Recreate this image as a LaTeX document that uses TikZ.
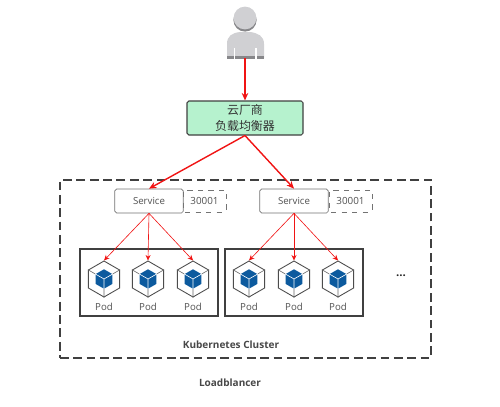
\documentclass[tikz,border=0pt]{standalone}
\usepackage{fontspec}
\setmainfont{Open Sans}
\newfontfamily\cjk{Noto Sans CJK SC}
\usetikzlibrary{calc,arrows.meta,shapes.geometric}
\definecolor{userc}{RGB}{208,208,211}
\definecolor{usershade}{RGB}{135,135,138}
\definecolor{lbc}{RGB}{182,242,206}
\definecolor{cubec}{RGB}{12,90,158}
\definecolor{linec}{RGB}{64,64,64}
\definecolor{txtc}{RGB}{80,80,80}
\definecolor{flowc}{RGB}{240,20,20}
\tikzset{
  lb/.style={rectangle,rounded corners=1pt,draw=linec,fill=lbc,line width=0.6pt,minimum width=23.2mm,minimum height=6.8mm,inner sep=0pt,align=center,font=\cjk\fontsize{6.8}{8.6}\selectfont,text=black!80},
  svc/.style={rectangle,rounded corners=1pt,draw=black!55,fill=white,line width=0.4pt,minimum width=13.7mm,minimum height=4.8mm,inner sep=0pt,font=\fontsize{5.5}{6}\selectfont,text=txtc},
  nport/.style={rectangle,rounded corners=1pt,draw=black!55,dashed,line width=0.4pt,minimum width=8.6mm,minimum height=4.4mm,inner sep=0pt,font=\fontsize{5.6}{6}\selectfont,text=txtc},
  podbox/.style={rectangle,draw=black!75,line width=0.7pt,minimum width=27.6mm,minimum height=13.4mm,inner sep=0pt},
  pod/.style={regular polygon,regular polygon sides=6,shape border rotate=30,draw=black!70,line width=0.5pt,minimum size=7.2mm,inner sep=0pt},
  cube/.style={regular polygon,regular polygon sides=6,shape border rotate=30,fill=cubec,minimum size=3.9mm,inner sep=0pt},
  lbl/.style={font=\fontsize{5.5}{6}\selectfont,text=txtc},
  title/.style={font=\bfseries\fontsize{5.7}{7}\selectfont,text=black!72},
  bigflow/.style={-{Stealth[length=1.5mm,width=1.3mm]},flowc,line width=0.8pt},
  flow/.style={-{Stealth[length=1.1mm,width=1mm]},flowc,line width=0.35pt},
}
\begin{document}
\begin{tikzpicture}[x=0.2mm,y=-0.2mm]
  \useasboundingbox (0,0) rectangle (500,406);
  % user figure
  \fill[usershade] (245,20) circle (11.6);
  \fill[userc] (245,18) circle (11.4);
  \fill[userc] (227,58) -- (227,44) .. controls (227,36) and (232,33) .. (240,32) -- (250,32) .. controls (258,33) and (264,36) .. (264,44) -- (264,58) -- cycle;
  \fill[usershade] (227,56) rectangle (264,58.5);
  \draw[white,line width=0.6pt] (234.5,48) -- (234.5,58.5) (256,48) -- (256,58.5);
  \coordinate (user) at (245,58);
  % balancer, cluster frame
  \node[lb] (lb) at (245,118){云厂商\\负载均衡器};
  \node[rectangle,draw=black!75,dashed,dash pattern=on 5pt off 2.6pt,line width=0.6pt,minimum width=74.2mm,minimum height=35.6mm,inner sep=0pt] (cluster) at (245.5,269){};
  % services and their ports
  \node[svc] (s1) at (149,201){Service};
  \node[nport] (n1) at (204.5,201){30001};
  \node[svc] (s2) at (294,201){Service};
  \node[nport] (n2) at (350.5,201){30001};
  \node[podbox] (b1) at (149,282.5){};
  \node[podbox] (b2) at (294,282.5){};
  % pods: name/x
  \foreach \n/\x in {p1/104,p2/148,p3/193,p4/249,p5/294,p6/338}{
    \node[pod] (\n) at (\x,279){};
    \node[cube] (\n c) at (\x,279){};
    \draw[black!60,line width=0.35pt] (\n.corner 2) -- (\n c.corner 2) (\n.corner 6) -- (\n c.corner 6) (\n.corner 4) -- (\n c.corner 4);
    \draw[white,line width=0.35pt] (\n c.center) -- (\n c.corner 2) (\n c.center) -- (\n c.corner 6) (\n c.center) -- (\n c.corner 4);
    \node[lbl] (\n l) at (\x,307){Pod};
  }
  % connectors
  \draw[bigflow] (user) -- (lb.north);
  \draw[bigflow] (lb.south) -- (s1.north);
  \draw[bigflow] (lb.south) -- (s2.north);
  \foreach \n in {p1,p2,p3} \draw[flow] (s1.south) -- (\n.north);
  \foreach \n in {p4,p5,p6} \draw[flow] (s2.south) -- (\n.north);
  \node[font=\bfseries\fontsize{6.5}{7}\selectfont,text=black!85] (more) at (401,276){...};
  \node[title] (kc) at (231,345){Kubernetes Cluster};
  \node[title] (lbt) at (230,383){Loadblancer};
\end{tikzpicture}
\end{document}
